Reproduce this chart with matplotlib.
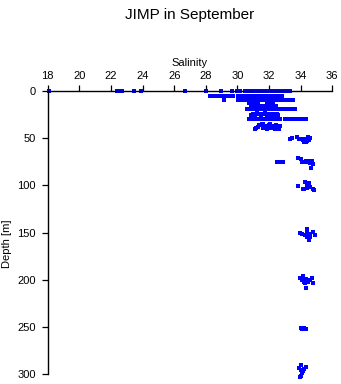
import numpy as np
import matplotlib
matplotlib.use("Agg")
import matplotlib.pyplot as plt

plt.rcParams['font.family'] = ['Liberation Sans', 'DejaVu Sans']

# salinity readings grouped by depth level [m]
sal_d0 = [18.08, 22.40, 22.62, 22.72, 23.48, 23.92, 26.70, 28.01, 28.94, 29.68, 29.99, 30.16,
          30.45, 30.57, 30.70, 30.81, 30.94, 31.05, 31.18, 31.29, 31.41, 31.54, 31.65, 31.77,
          31.90, 32.01, 32.13, 32.26, 32.37, 32.49, 32.62, 32.73, 32.85, 32.97, 33.10, 33.21, 33.32]
sal_d5 = [28.27, 28.40, 28.52, 28.73, 28.85, 28.98, 29.10, 29.32, 29.45, 29.58, 29.72,
          30.03, 30.15, 30.27, 30.40, 30.52, 30.64, 30.77, 30.89, 31.01, 31.14, 31.26, 31.38,
          31.50, 31.63, 31.75, 31.87, 32.00, 32.12, 32.24, 32.36, 32.49, 32.61, 32.72, 32.80]
sal_d7 = [30.05, 30.71, 30.84, 30.96, 31.09, 31.22, 31.35, 31.47, 31.60, 31.73, 31.86,
          31.98, 32.10, 32.24, 32.60]
sal_d10 = [29.15, 30.01, 30.13, 30.25, 30.38, 30.50, 30.62, 30.75, 30.87, 30.99, 31.12,
           31.24, 31.36, 31.49, 31.61, 31.73, 31.86, 31.98, 32.10, 32.23, 32.35, 32.47,
           32.60, 32.72, 32.84, 32.97, 33.09, 33.21, 33.34, 33.46, 33.52]
sal_d13 = [30.72, 30.86, 31.00, 31.14, 31.30, 31.86, 32.02, 32.18, 32.26]
sal_d16 = [30.86, 30.98, 31.12, 31.22, 31.35, 31.47, 31.60, 31.74, 31.86, 31.98, 32.06,
           32.18, 32.30, 32.42]
sal_d19 = [30.62, 30.74, 30.86, 30.99, 31.11, 31.23, 31.36, 31.48, 31.60, 31.73, 31.85,
           31.97, 32.10, 32.22, 32.34, 32.47, 32.59, 32.71, 32.84, 32.96, 33.08, 33.21,
           33.33, 33.40, 33.66]
sal_d25 = [30.87, 30.99, 31.12, 31.24, 31.36, 31.49, 31.61, 31.74, 31.86, 31.98, 32.11,
           32.23, 32.35, 32.48, 32.58]
dep_d25 = [25.0, 24.2, 25.3, 23.6, 24.8, 25.6, 24.4, 23.4, 25.2, 24.6, 25.8, 24.0, 25.1,
           24.5, 25.4]
sal_d30 = [30.70, 30.82, 30.95, 31.07, 31.19, 31.32, 31.44, 31.57, 31.69, 31.81, 31.94,
           32.06, 32.19, 32.31, 32.44, 32.56, 32.68, 33.01, 33.14, 33.34, 33.46, 33.58,
           33.71, 33.83, 33.96, 34.08, 34.20, 34.31]
sal_d38 = [31.12, 31.20, 31.30, 31.38, 31.47, 31.55, 31.64, 31.72, 31.80, 31.90, 31.98,
           32.07, 32.15, 32.24, 32.33, 32.41, 32.50, 32.58, 32.67, 31.60, 31.85, 32.10,
           32.40, 32.62, 31.30]
dep_d38 = [40.5, 39.2, 37.8, 36.5, 35.5, 34.6, 35.2, 36.8, 38.0, 37.2, 36.0, 35.4, 36.6,
           38.2, 37.4, 36.2, 37.8, 38.8, 37.0, 39.5, 39.8, 39.2, 40.4, 40.6, 38.6]

# deeper casts, scattered around the standard depths
sal_deep = [33.30, 33.42, 33.76, 33.88, 34.00, 34.12, 34.25, 34.37, 34.50, 34.62, 34.20,
            34.35, 34.45,
            32.48, 32.60, 32.72, 32.86, 33.86, 34.00, 34.08, 34.20, 34.33, 34.45, 34.57,
            34.70, 34.80, 34.62, 34.66,
            33.85, 34.14, 34.23, 34.28, 34.38, 34.50, 34.60, 34.45, 34.52, 34.78, 34.86,
            34.55, 34.40,
            34.42, 33.96, 34.10, 34.25, 34.38, 34.50, 34.62, 34.75, 34.88, 34.40, 34.52,
            34.62,
            34.17, 33.96, 34.08, 34.22, 34.36, 34.48, 34.60, 34.72, 34.80, 34.34, 34.30,
            34.00, 34.10, 34.22, 34.32,
            34.00, 33.92, 34.02, 34.12, 34.22, 34.36, 34.08, 34.00, 33.94]
dep_deep = [50.7, 50.2, 49.0, 50.4, 51.2, 52.0, 50.6, 52.6, 51.4, 50.2, 53.6,
            54.0, 48.6,
            74.9, 74.9, 74.9, 74.9, 71.3, 71.8, 75.0, 75.4, 74.2, 75.6, 76.4,
            74.6, 76.8, 73.8, 81.8,
            101.0, 104.0, 104.2, 96.2, 98.6, 100.2, 102.0, 99.4, 101.8, 104.0, 105.0,
            97.6, 102.6,
            146.5, 150.4, 151.8, 153.0, 150.2, 152.6, 151.4, 149.8, 152.2, 155.0, 157.6,
            154.2,
            196.0, 198.4, 200.6, 202.2, 199.0, 201.8, 200.2, 198.0, 202.8, 209.0, 203.4,
            250.6, 252.4, 251.0, 251.8,
            290.3, 293.6, 295.4, 297.0, 294.2, 292.8, 299.0, 301.4, 302.4]

sal = (sal_d0 + sal_d5 + sal_d7 + sal_d10 + sal_d13 + sal_d16 + sal_d19 + sal_d25
       + sal_d30 + sal_d38 + sal_deep)
dep = ([0] * len(sal_d0) + [5] * len(sal_d5) + [7.5] * len(sal_d7) + [10] * len(sal_d10)
       + [12.8] * len(sal_d13) + [16] * len(sal_d16) + [19.5] * len(sal_d19) + dep_d25
       + [30] * len(sal_d30) + dep_d38 + dep_deep)

xticks = np.arange(18, 37, 2)
yticks = np.arange(0, 301, 50)

fig = plt.figure(figsize=(3.41, 3.84), dpi=100)
ax = fig.add_axes([0.14, 0.0253, 0.8345, 0.7377])

ax.plot(sal, dep, 's', color='#0000ff', markersize=2.5, markeredgewidth=0,
        clip_on=False)

ax.set_xlim(18, 36)
ax.set_ylim(300, 0)
ax.set_xticks(xticks)
ax.set_yticks(yticks)
ax.xaxis.tick_top()
ax.xaxis.set_label_position('top')
ax.spines['bottom'].set_visible(False)
ax.spines['right'].set_visible(False)
for s in ['top', 'left']:
    ax.spines[s].set_linewidth(1.0)
ax.tick_params(axis='both', direction='out', length=4.5, width=0.9, labelsize=8, pad=3)
ax.tick_params(axis='y', pad=4)
ax.set_xlabel('Salinity', fontsize=8, labelpad=3)
ax.set_ylabel('Depth [m]', fontsize=8)
ax.yaxis.set_label_coords(-0.125, 0.46)

fig.text(0.557, 0.961, 'JIMP in September', ha='center', va='center', fontsize=11)

fig.savefig('out.png', dpi=100)
